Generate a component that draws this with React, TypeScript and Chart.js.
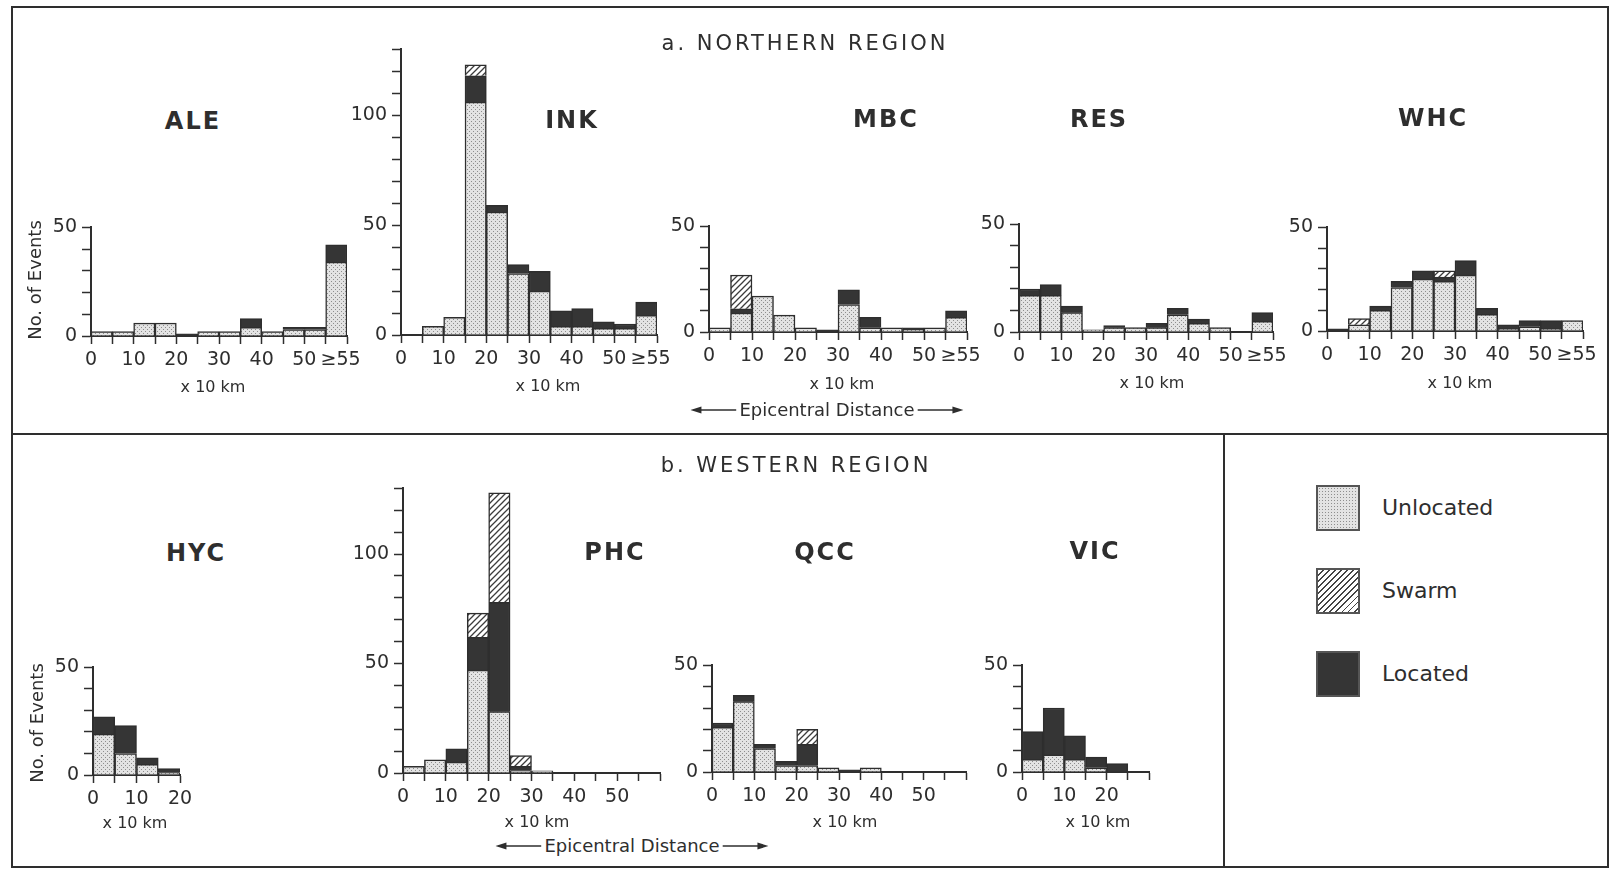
import React, { useEffect, useRef } from 'react';
import { Chart, registerables } from 'chart.js';

Chart.register(...registerables);

const FONT = '"DejaVu Sans", "Liberation Sans", sans-serif';
const INK = '#2e2e2e';
Chart.defaults.font.family = FONT;
Chart.defaults.color = INK;

// ---------- data ----------
const BIN_STARTS = [0, 5, 10, 15, 20, 25, 30, 35, 40, 45, 50, 55];
const BIN_WIDTH = 5;

const NORTH_X_TICKS = [0, 5, 10, 15, 20, 25, 30, 35, 40, 45, 50, 55, 60];
const NORTH_X_LABELS = ['0', '', '10', '', '20', '', '30', '', '40', '', '50', '', ''];
const OVERFLOW_LABEL = '≥55';
const OVERFLOW_LABEL_AT = 58.5;
const WIDE_X_TICKS = [0, 5, 10, 15, 20, 25, 30, 35, 40, 45, 50, 55, 60];
const WIDE_X_LABELS = ['0', '', '10', '', '20', '', '30', '', '40', '', '50', '', ''];
const HYC_X_TICKS = [0, 5, 10, 15, 20];
const HYC_X_LABELS = ['0', '', '10', '', '20'];
const VIC_X_TICKS = [0, 5, 10, 15, 20, 25, 30];
const VIC_X_LABELS = ['0', '', '10', '', '20', '', ''];
const Y_TICKS_50 = [0, 10, 20, 30, 40, 50];
const Y_LABELS_50 = ['0', '', '', '', '', '50'];
const Y_TICKS_130 = [0, 10, 20, 30, 40, 50, 60, 70, 80, 90, 100, 110, 120, 130];
const Y_LABELS_130 = ['0', '', '', '', '', '50', '', '', '', '', '100', '', '', ''];

const ALE_UNLOCATED = [2, 2, 6, 6, 0, 2, 2, 4, 2, 3, 3, 34];
const ALE_LOCATED = [0, 0, 0, 0, 1, 0, 0, 4, 0, 1, 1, 8];
const ALE_SWARM = [0, 0, 0, 0, 0, 0, 0, 0, 0, 0, 0, 0];

const INK_UNLOCATED = [0, 4, 8, 106, 56, 28, 20, 4, 4, 3, 3, 9];
const INK_LOCATED = [0, 0, 0, 12, 3, 4, 9, 7, 8, 3, 2, 6];
const INK_SWARM = [0, 0, 0, 5, 0, 0, 0, 0, 0, 0, 0, 0];

const MBC_UNLOCATED = [2, 9, 17, 8, 2, 0, 13, 2, 2, 1, 2, 7];
const MBC_LOCATED = [0, 2, 0, 0, 0, 1, 7, 5, 0, 1, 0, 3];
const MBC_SWARM = [0, 16, 0, 0, 0, 0, 0, 0, 0, 0, 0, 0];

const RES_UNLOCATED = [17, 17, 9, 1, 2, 2, 2, 8, 4, 2, 0, 5];
const RES_LOCATED = [3, 5, 3, 0, 1, 0, 2, 3, 2, 0, 0, 4];
const RES_SWARM = [0, 0, 0, 0, 0, 0, 0, 0, 0, 0, 0, 0];

const WHC_UNLOCATED = [0, 3, 10, 21, 25, 24, 27, 8, 1, 2, 1, 5];
const WHC_LOCATED = [1, 0, 2, 3, 4, 2, 7, 3, 2, 3, 4, 0];
const WHC_SWARM = [0, 3, 0, 0, 0, 3, 0, 0, 0, 0, 0, 0];

const HYC_UNLOCATED = [19, 10, 5, 1];
const HYC_LOCATED = [8, 13, 3, 2];
const HYC_SWARM = [0, 0, 0, 0];

const PHC_UNLOCATED = [3, 6, 5, 47, 28, 1, 1];
const PHC_LOCATED = [0, 0, 6, 15, 50, 2, 0];
const PHC_SWARM = [0, 0, 0, 11, 50, 5, 0];

const QCC_UNLOCATED = [21, 33, 11, 3, 3, 2, 0, 2];
const QCC_LOCATED = [2, 3, 2, 2, 10, 0, 1, 0];
const QCC_SWARM = [0, 0, 0, 0, 7, 0, 0, 0];

const VIC_UNLOCATED = [6, 8, 6, 2, 0];
const VIC_LOCATED = [13, 22, 11, 5, 4];
const VIC_SWARM = [0, 0, 0, 0, 0];

// ---------- layout ----------
type Box = { l: number; r: number; b: number; t: number };
type Panel = {
  name: string;
  unl: number[];
  loc: number[];
  swm: number[];
  xTicks: number[];
  xLabels: string[];
  overflow: boolean;
  yTicks: number[];
  yLabels: string[];
  box: Box;
};

const PANELS: Panel[] = [
  { name: 'ALE', unl: ALE_UNLOCATED, loc: ALE_LOCATED, swm: ALE_SWARM, xTicks: NORTH_X_TICKS, xLabels: NORTH_X_LABELS, overflow: true, yTicks: Y_TICKS_50, yLabels: Y_LABELS_50, box: { l: 91, r: 347, b: 336, t: 225 } },
  { name: 'INK', unl: INK_UNLOCATED, loc: INK_LOCATED, swm: INK_SWARM, xTicks: NORTH_X_TICKS, xLabels: NORTH_X_LABELS, overflow: true, yTicks: Y_TICKS_130, yLabels: Y_LABELS_130, box: { l: 401, r: 657, b: 335, t: 47 } },
  { name: 'MBC', unl: MBC_UNLOCATED, loc: MBC_LOCATED, swm: MBC_SWARM, xTicks: NORTH_X_TICKS, xLabels: NORTH_X_LABELS, overflow: true, yTicks: Y_TICKS_50, yLabels: Y_LABELS_50, box: { l: 709, r: 967, b: 332, t: 224 } },
  { name: 'RES', unl: RES_UNLOCATED, loc: RES_LOCATED, swm: RES_SWARM, xTicks: NORTH_X_TICKS, xLabels: NORTH_X_LABELS, overflow: true, yTicks: Y_TICKS_50, yLabels: Y_LABELS_50, box: { l: 1019, r: 1273, b: 332, t: 222 } },
  { name: 'WHC', unl: WHC_UNLOCATED, loc: WHC_LOCATED, swm: WHC_SWARM, xTicks: NORTH_X_TICKS, xLabels: NORTH_X_LABELS, overflow: true, yTicks: Y_TICKS_50, yLabels: Y_LABELS_50, box: { l: 1327, r: 1583, b: 331, t: 225 } },
  { name: 'HYC', unl: HYC_UNLOCATED, loc: HYC_LOCATED, swm: HYC_SWARM, xTicks: HYC_X_TICKS, xLabels: HYC_X_LABELS, overflow: false, yTicks: Y_TICKS_50, yLabels: Y_LABELS_50, box: { l: 93, r: 180, b: 775, t: 665 } },
  { name: 'PHC', unl: PHC_UNLOCATED, loc: PHC_LOCATED, swm: PHC_SWARM, xTicks: WIDE_X_TICKS, xLabels: WIDE_X_LABELS, overflow: false, yTicks: Y_TICKS_130, yLabels: Y_LABELS_130, box: { l: 403, r: 660, b: 773, t: 486 } },
  { name: 'QCC', unl: QCC_UNLOCATED, loc: QCC_LOCATED, swm: QCC_SWARM, xTicks: WIDE_X_TICKS, xLabels: WIDE_X_LABELS, overflow: false, yTicks: Y_TICKS_50, yLabels: Y_LABELS_50, box: { l: 712, r: 966, b: 772, t: 663 } },
  { name: 'VIC', unl: VIC_UNLOCATED, loc: VIC_LOCATED, swm: VIC_SWARM, xTicks: VIC_X_TICKS, xLabels: VIC_X_LABELS, overflow: false, yTicks: Y_TICKS_50, yLabels: Y_LABELS_50, box: { l: 1022, r: 1149, b: 772, t: 663 } },
];

const TITLE_POS: Record<string, [number, number]> = {
  ALE: [193, 121], INK: [572, 120], MBC: [886, 119], RES: [1099, 119], WHC: [1433, 118],
  HYC: [196, 553], PHC: [615, 552], QCC: [825, 552], VIC: [1095, 551],
};
const KM_POS: Record<string, [number, number]> = {
  ALE: [213, 387], INK: [548, 386], MBC: [842, 384], RES: [1152, 383], WHC: [1460, 383],
  HYC: [135, 823], PHC: [537, 822], QCC: [845, 822], VIC: [1098, 822],
};

const Y_AXIS_W = 50;
const X_AXIS_H = 44;
const PAD_T = 14;
const PAD_R = 26;
const TICK_FONT = 19;

function makeStipple(ctx: CanvasRenderingContext2D) {
  const c = document.createElement('canvas');
  c.width = 4; c.height = 4;
  const g = c.getContext('2d')!;
  g.fillStyle = '#e3e3e3'; g.fillRect(0, 0, 4, 4);
  g.fillStyle = '#8e8e8e'; g.fillRect(0, 0, 1, 1); g.fillRect(2, 2, 1, 1);
  return ctx.createPattern(c, 'repeat')!;
}
function makeHatch(ctx: CanvasRenderingContext2D) {
  const s = 6;
  const c = document.createElement('canvas');
  c.width = s; c.height = s;
  const g = c.getContext('2d')!;
  g.fillStyle = '#ffffff'; g.fillRect(0, 0, s, s);
  g.strokeStyle = '#3c3c3c'; g.lineWidth = 1.3;
  g.beginPath();
  g.moveTo(0, s); g.lineTo(s, 0);
  g.moveTo(-1, 1); g.lineTo(1, -1);
  g.moveTo(s - 1, s + 1); g.lineTo(s + 1, s - 1);
  g.stroke();
  return ctx.createPattern(c, 'repeat')!;
}

const overflowLabelPlugin = {
  id: 'overflowLabel',
  afterDraw(chart: any, _args: any, opts: any) {
    if (!opts || !opts.text) return;
    const xs = chart.scales.x;
    const items = xs.getLabelItems ? xs.getLabelItems() : [];
    const ref = items.find((it: any) => it.label === '10');
    const y = ref ? ref.options.translation[1] + (ref.textOffset || 0) : xs.top + 16;
    const baseline = ref ? ref.options.textBaseline : 'top';
    const ctx = chart.ctx;
    ctx.save();
    ctx.font = `${TICK_FONT}px ${FONT}`;
    ctx.fillStyle = INK;
    ctx.textAlign = 'center';
    ctx.textBaseline = baseline;
    ctx.fillText(opts.text, xs.getPixelForValue(opts.value), y);
    ctx.restore();
  },
};

function toPoints(values: number[]) {
  return values.map((v, i) => ({ x: BIN_STARTS[i] + BIN_WIDTH / 2, y: v > 0 ? v : null }));
}

function Histogram({ p }: { p: Panel }) {
  const ref = useRef<HTMLCanvasElement | null>(null);
  const w = p.box.r - p.box.l + Y_AXIS_W + PAD_R;
  const h = p.box.b - p.box.t + PAD_T + X_AXIS_H;
  useEffect(() => {
    const canvas = ref.current!;
    const ctx = canvas.getContext('2d')!;
    const stipple = makeStipple(ctx);
    const hatch = makeHatch(ctx);
    const barCommon = {
      borderColor: INK,
      borderWidth: 1.5,
      barPercentage: 1,
      categoryPercentage: 1,
    };
    const xMax = p.xTicks[p.xTicks.length - 1];
    const yMax = p.yTicks[p.yTicks.length - 1];
    const chart = new Chart(canvas, {
      type: 'bar',
      data: {
        datasets: [
          { label: 'Unlocated', data: toPoints(p.unl), backgroundColor: stipple, ...barCommon },
          { label: 'Located', data: toPoints(p.loc), backgroundColor: '#353535', ...barCommon },
          { label: 'Swarm', data: toPoints(p.swm), backgroundColor: hatch, ...barCommon },
        ] as any,
      },
      options: {
        animation: false,
        responsive: false,
        maintainAspectRatio: false,
        layout: { padding: { top: PAD_T, right: PAD_R, left: 0, bottom: 0 } },
        plugins: {
          legend: { display: false },
          tooltip: { enabled: false },
          overflowLabel: p.overflow ? { text: OVERFLOW_LABEL, value: OVERFLOW_LABEL_AT } : {},
        } as any,
        scales: {
          x: {
            type: 'linear',
            min: 0,
            max: xMax,
            offset: false,
            stacked: true,
            afterBuildTicks: (s: any) => { s.ticks = p.xTicks.map((v) => ({ value: v })); },
            afterFit: (s: any) => { s.height = X_AXIS_H; },
            grid: { display: true, drawOnChartArea: false, drawTicks: true, tickLength: 8, tickWidth: 1.5, tickColor: INK, offset: false },
            border: { display: true, color: INK, width: 2 },
            ticks: {
              autoSkip: false,
              maxRotation: 0,
              minRotation: 0,
              padding: 5,
              color: INK,
              font: { family: FONT, size: TICK_FONT },
              callback: (_v: any, i: number) => p.xLabels[i],
            },
          },
          y: {
            type: 'linear',
            min: 0,
            max: yMax,
            stacked: true,
            afterBuildTicks: (s: any) => { s.ticks = p.yTicks.map((v) => ({ value: v })); },
            afterFit: (s: any) => { s.width = Y_AXIS_W; },
            grid: { display: true, drawOnChartArea: false, drawTicks: true, tickLength: 9, tickWidth: 1.5, tickColor: INK },
            border: { display: true, color: INK, width: 2 },
            ticks: {
              autoSkip: false,
              padding: 5,
              color: INK,
              font: { family: FONT, size: TICK_FONT },
              callback: (_v: any, i: number) => p.yLabels[i],
            },
          },
        } as any,
      },
      plugins: [overflowLabelPlugin as any],
    });
    return () => chart.destroy();
  }, [p]);
  return (
    <canvas
      ref={ref}
      width={w}
      height={h}
      style={{ position: 'absolute', left: p.box.l - Y_AXIS_W, top: p.box.t - PAD_T, width: w, height: h, display: 'block' }}
    />
  );
}

function Txt({ x, y, children, style }: { x: number; y: number; children: React.ReactNode; style?: React.CSSProperties }) {
  return (
    <div style={{ position: 'absolute', left: x, top: y, transform: 'translate(-50%, -50%)', whiteSpace: 'nowrap', lineHeight: 1, ...style }}>
      {children}
    </div>
  );
}

function Arrow({ dir }: { dir: 'left' | 'right' }) {
  return (
    <svg width={46} height={10} viewBox="0 0 46 10" style={{ display: 'block' }}>
      {dir === 'left' ? (
        <>
          <path d="M0 5 L11 1.5 L11 8.5 Z" fill={INK} />
          <line x1={9} y1={5} x2={46} y2={5} stroke={INK} strokeWidth={1.5} />
        </>
      ) : (
        <>
          <path d="M46 5 L35 1.5 L35 8.5 Z" fill={INK} />
          <line x1={0} y1={5} x2={37} y2={5} stroke={INK} strokeWidth={1.5} />
        </>
      )}
    </svg>
  );
}

function Epicentral({ x, y }: { x: number; y: number }) {
  return (
    <div style={{ position: 'absolute', left: x, top: y, transform: 'translate(-50%, -50%)', display: 'flex', alignItems: 'center', gap: 3, whiteSpace: 'nowrap', fontSize: 18, lineHeight: 1 }}>
      <Arrow dir="left" />
      <span>Epicentral Distance</span>
      <Arrow dir="right" />
    </div>
  );
}

const LEGEND_ITEMS = ['Unlocated', 'Swarm', 'Located'];
const LEGEND_FILLS: React.CSSProperties[] = [
  { backgroundColor: '#e3e3e3', backgroundImage: 'radial-gradient(#8e8e8e 0.7px, transparent 0.9px)', backgroundSize: '3px 3px' },
  { backgroundColor: '#fff', backgroundImage: 'repeating-linear-gradient(135deg, #fff 0px, #fff 3px, #444 3px, #444 4.3px)' },
  { backgroundColor: '#353535' },
];
const LEGEND_Y = [508, 591, 674];

export default function App() {
  return (
    <div style={{ position: 'absolute', left: 0, top: 0, width: 1611, height: 870, background: '#fff', fontFamily: FONT, color: INK, overflow: 'hidden' }}>
      <div style={{ position: 'absolute', left: 11, top: 6, width: 1598, height: 862, border: `2px solid ${INK}`, boxSizing: 'border-box' }} />
      <div style={{ position: 'absolute', left: 11, top: 433, width: 1598, height: 2, background: INK }} />
      <div style={{ position: 'absolute', left: 1223, top: 433, width: 2, height: 435, background: INK }} />

      {PANELS.map((p) => <Histogram key={p.name} p={p} />)}

      <Txt x={805} y={43} style={{ fontSize: 21, letterSpacing: 3 }}>a. NORTHERN REGION</Txt>
      <Txt x={796} y={465} style={{ fontSize: 21, letterSpacing: 3 }}>b. WESTERN REGION</Txt>

      {PANELS.map((p) => (
        <Txt key={'t' + p.name} x={TITLE_POS[p.name][0]} y={TITLE_POS[p.name][1]} style={{ fontSize: 24, fontWeight: 'bold', letterSpacing: 2 }}>{p.name}</Txt>
      ))}
      {PANELS.map((p) => (
        <Txt key={'k' + p.name} x={KM_POS[p.name][0]} y={KM_POS[p.name][1]} style={{ fontSize: 16 }}>x 10 km</Txt>
      ))}

      <Txt x={35} y={280} style={{ fontSize: 18, transform: 'translate(-50%, -50%) rotate(-90deg)' }}>No. of Events</Txt>
      <Txt x={37} y={723} style={{ fontSize: 18, transform: 'translate(-50%, -50%) rotate(-90deg)' }}>No. of Events</Txt>

      <Epicentral x={827} y={410} />
      <Epicentral x={632} y={846} />

      {LEGEND_ITEMS.map((name, i) => (
        <React.Fragment key={name}>
          <div style={{ position: 'absolute', left: 1316, top: LEGEND_Y[i] - 23, width: 44, height: 46, border: '2px solid #555', boxSizing: 'border-box', ...LEGEND_FILLS[i] }} />
          <div style={{ position: 'absolute', left: 1382, top: LEGEND_Y[i], transform: 'translateY(-50%)', fontSize: 22, lineHeight: 1, whiteSpace: 'nowrap' }}>{name}</div>
        </React.Fragment>
      ))}
    </div>
  );
}
